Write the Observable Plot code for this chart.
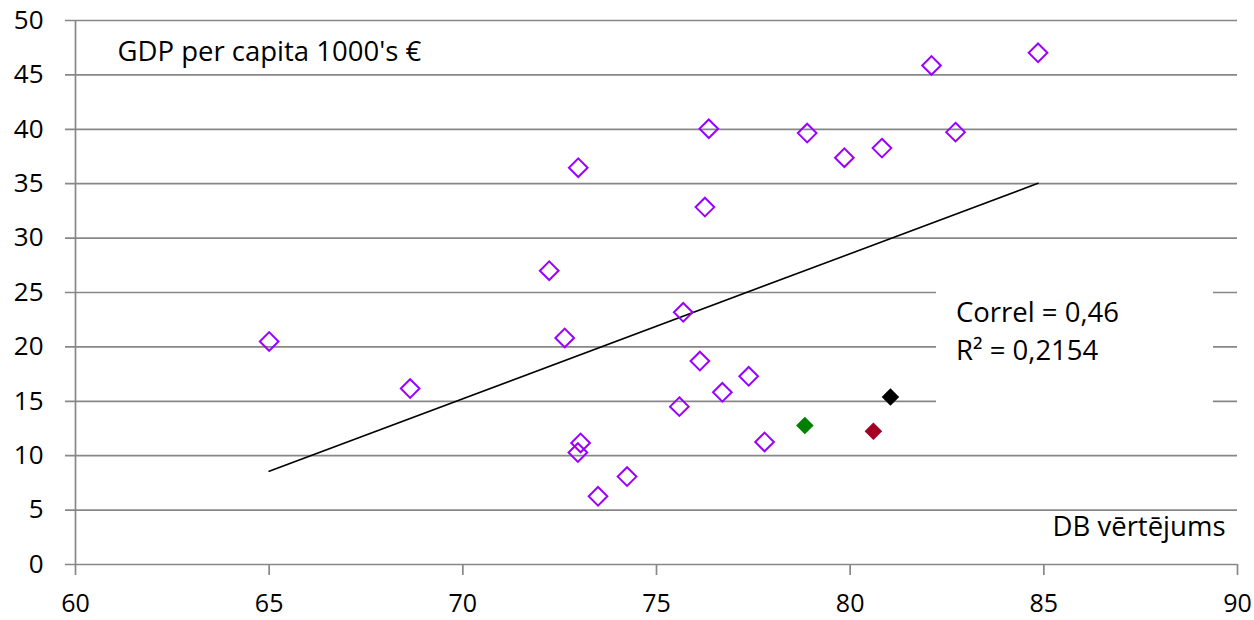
<!DOCTYPE html>
<html>
<head>
<meta charset="utf-8">
<script src="https://cdn.jsdelivr.net/npm/d3@7"></script>
<script src="https://cdn.jsdelivr.net/npm/@observablehq/plot@0.6"></script>
<style>
  html, body { margin: 0; padding: 0; background: #fff; }
  #chart svg { display: block; }
</style>
</head>
<body>
<div id="chart"></div>
<script>
// Countries (purple hollow diamonds): DB score vs GDP per capita (1000's €)
const dbScores = [65.0, 68.64, 72.23, 72.63, 72.98, 73.04, 72.97, 73.49, 74.24, 75.59, 75.69, 76.12,
                  76.25, 76.35, 76.70, 77.38, 77.79, 78.89, 79.85, 80.82, 82.10, 82.72, 84.85];
const gdpValues = [20.5, 16.17, 27.0, 20.82, 36.47, 11.17, 10.29, 6.27, 8.08, 14.51, 23.18, 18.7,
                   32.85, 40.05, 15.83, 17.3, 11.26, 39.65, 37.39, 38.27, 45.87, 39.74, 47.03];

// Highlighted points (filled diamonds)
const highlightNames = ["green", "red", "black"];
const highlightDb = [78.83, 80.60, 81.04];
const highlightGdp = [12.77, 12.25, 15.4];
const highlightColors = ["#008000", "#a50021", "#000000"];

// Linear trend line endpoints
const trendX = [65.0, 84.85];
const trendY = [8.57, 35.03];

const xTicks = [60, 65, 70, 75, 80, 85, 90];
const yTicks = [0, 5, 10, 15, 20, 25, 30, 35, 40, 45, 50];

const yLabel = "GDP per capita 1000's €";
const xLabel = "DB vērtējums";
const statsLines = ["Correl = 0,46", "R² = 0,2154"];

const points = dbScores.map((x, i) => ({x, y: gdpValues[i]}));
const highlights = highlightNames.map((n, i) => ({name: n, x: highlightDb[i], y: highlightGdp[i], color: highlightColors[i]}));
const trend = trendX.map((x, i) => ({x, y: trendY[i]}));

const W = 1254, H = 620;
const mL = 75, mR = 17, mT = 20, mB = 56;
const FONT = "'Open Sans', sans-serif";
const GRID = "#878787";

const chart = Plot.plot({
  width: W,
  height: H,
  marginLeft: mL,
  marginRight: mR,
  marginTop: mT,
  marginBottom: mB,
  style: {fontFamily: FONT, fontSize: "26px", color: "#000", background: "#fff"},
  x: {domain: [60, 90], ticks: xTicks, label: null, axis: null},
  y: {domain: [0, 50], ticks: yTicks, label: null, axis: null},
  marks: [
    // horizontal gridlines extending into the left tick
    Plot.ruleY(yTicks, {y: d => d, x1: 60, x2: 90, stroke: GRID, strokeWidth: 1.7, insetLeft: -10}),
    // vertical axis line
    Plot.ruleX([60], {stroke: GRID, strokeWidth: 1.7, insetBottom: -11}),
    // x tick marks
    Plot.ruleX(xTicks.slice(1), {x: d => d, y1: 0, y2: 0, stroke: GRID, strokeWidth: 1.7, insetBottom: -11}),
    // y tick labels
    Plot.text(yTicks, {x: 60, y: d => d, text: d => String(d), textAnchor: "end", dx: -32, fontSize: 26, fill: "#000"}),
    // x tick labels
    Plot.text(xTicks, {x: d => d, y: 0, text: d => String(d), lineAnchor: "top", dy: 30, fontSize: 25, fill: "#000"}),
    // trend line
    Plot.line(trend, {x: "x", y: "y", stroke: "#000", strokeWidth: 1.6}),
    // hollow diamonds
    Plot.dot(points, {x: "x", y: "y", symbol: "diamond2", r: 8.4, stroke: "#9b00ff", strokeWidth: 2, fill: "none"}),
    // filled highlighted diamonds
    Plot.dot(highlights, {x: "x", y: "y", symbol: "diamond2", r: 7.9, fill: d => d.color, stroke: "none"}),
    // axis titles
    Plot.text([yLabel], {frameAnchor: "top-left", text: d => d, textAnchor: "start", lineAnchor: "bottom", dx: 42, dy: 40, fontSize: 27.5, fill: "#000"}),
    Plot.text([xLabel], {frameAnchor: "bottom-right", text: d => d, textAnchor: "end", lineAnchor: "bottom", dx: -12, dy: -29, fontSize: 27.5, fill: "#000"})
  ]
});

// white label box with statistics (drawn over gridlines)
const svg = d3.select(chart);
const boxX = 936, boxY = 262, boxW = 277, boxH = 150;
const g = svg.append("g").attr("class", "stats-label");
g.append("rect").attr("x", boxX).attr("y", boxY).attr("width", boxW).attr("height", boxH).attr("fill", "#fff");
g.selectAll("text").data(statsLines).join("text")
  .attr("x", boxX + 20)
  .attr("y", (d, i) => 322 + i * 38)
  .attr("text-anchor", "start")
  .attr("font-family", FONT)
  .attr("font-size", 27.5)
  .attr("fill", "#000")
  .text(d => d);
// keep marks above the box
svg.selectAll("g[aria-label='dot']").raise();

document.getElementById("chart").appendChild(chart);
</script>
</body>
</html>
